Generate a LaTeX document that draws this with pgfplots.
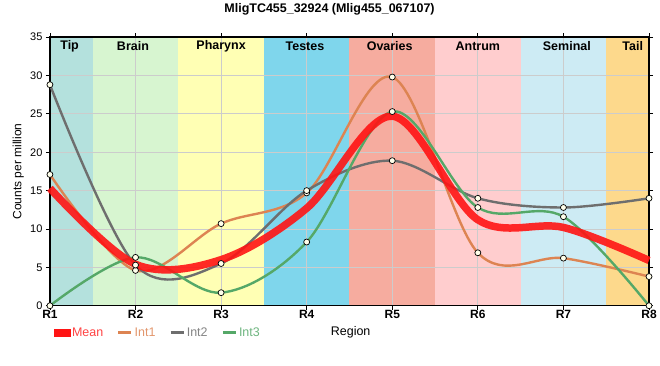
\documentclass[border=0pt]{standalone}
\usepackage{pgfplots}
\usepackage{pgfplotstable}
\pgfplotsset{compat=1.18}
\usepackage{fontspec}
\setmainfont{Liberation Sans}
\definecolor{tipc}{RGB}{180,225,221}
\definecolor{brainc}{RGB}{215,245,208}
\definecolor{pharc}{RGB}{255,255,180}
\definecolor{testc}{RGB}{127,214,236}
\definecolor{ovac}{RGB}{246,172,159}
\definecolor{antc}{RGB}{255,205,206}
\definecolor{semc}{RGB}{205,235,244}
\definecolor{tailc}{RGB}{253,217,140}
\definecolor{colA}{RGB}{221,132,82}
\definecolor{colB}{RGB}{110,110,110}
\definecolor{colC}{RGB}{85,168,104}
\definecolor{colM}{RGB}{255,20,20}
\definecolor{mfill}{RGB}{255,255,235}
\pgfplotstableread{
x int1 int2 int3 mean
1 17.1 28.8 0.0 15.3
2 4.6 5.3 6.3 5.4
3 10.7 5.5 1.7 6.0
4 14.7 15.0 8.3 12.7
5 29.8 18.9 25.3 24.7
6 6.9 14.0 12.8 11.2
7 6.2 12.8 11.6 10.2
8 3.8 14.0 0.0 5.9
}\data
\begin{document}
\begin{tikzpicture}
\begin{axis}[
  at={(0pt,0pt)}, anchor=south west, scale only axis, width=600pt, height=269pt,
  set layers, clip=false,
  xmin=1, xmax=8, ymin=0, ymax=35,
  xtick={1,...,8}, xticklabels={R1,R2,R3,R4,R5,R6,R7,R8},
  ytick={0,5,...,35},
  grid=major, grid style={draw=black!20, line width=0.8pt},
  axis line style={line width=1.5pt},
  tick align=outside, major tick length=4pt, tick style={black, line width=0.8pt},
  /pgf/number format/assume math mode=true,
  xticklabel style={font=\bfseries\fontsize{12}{14}\selectfont, yshift=3pt},
  yticklabel style={font=\fontsize{11}{13}\selectfont},
  title={MligTC455\_32924 (Mlig455\_067107)},
  title style={at={(axis description cs:0.4667,1)}, anchor=center, yshift=22pt, font=\bfseries\fontsize{12.5}{14}\selectfont},
  ylabel={Counts per million},
  ylabel style={at={(axis description cs:-0.053,0.5)}, anchor=center, font=\fontsize{12}{14}\selectfont},
  xlabel={Region},
  xlabel style={at={(axis description cs:0.502,-0.1)}, anchor=center, font=\fontsize{12.5}{14}\selectfont},
  legend columns=-1,
  legend style={at={(axis description cs:0.006,-0.1)}, anchor=west, draw=none, fill=none, inner sep=0pt,
    font=\fontsize{12.5}{14}\selectfont, /tikz/every even column/.append style={column sep=12pt}},
  legend cell align=left,
]
\addplot[fill=tipc, draw=none, on layer=axis background, forget plot] coordinates {(1,35) (1.5,35)} \closedcycle;
\addplot[fill=brainc, draw=none, on layer=axis background, forget plot] coordinates {(1.5,35) (2.5,35)} \closedcycle;
\addplot[fill=pharc, draw=none, on layer=axis background, forget plot] coordinates {(2.5,35) (3.5,35)} \closedcycle;
\addplot[fill=testc, draw=none, on layer=axis background, forget plot] coordinates {(3.5,35) (4.5,35)} \closedcycle;
\addplot[fill=ovac, draw=none, on layer=axis background, forget plot] coordinates {(4.5,35) (5.5,35)} \closedcycle;
\addplot[fill=antc, draw=none, on layer=axis background, forget plot] coordinates {(5.5,35) (6.5,35)} \closedcycle;
\addplot[fill=semc, draw=none, on layer=axis background, forget plot] coordinates {(6.5,35) (7.5,35)} \closedcycle;
\addplot[fill=tailc, draw=none, on layer=axis background, forget plot] coordinates {(7.5,35) (8,35)} \closedcycle;

\addplot[colA, line width=2.4pt, smooth, tension=0.55, forget plot] table[x=x,y=int1]{\data};
\addplot[colB, line width=2.4pt, smooth, tension=0.55, forget plot] table[x=x,y=int2]{\data};
\addplot[colC, line width=2.4pt, smooth, tension=0.55, forget plot] table[x=x,y=int3]{\data};
\addplot[colM, line width=7.5pt, opacity=0.9, smooth, tension=0.55, forget plot] table[x=x,y=mean]{\data};

\addplot[only marks, mark=*, mark size=3pt, mark options={fill=mfill, draw=black, line width=0.7pt}, forget plot] table[x=x,y=int1]{\data};
\addplot[only marks, mark=*, mark size=3pt, mark options={fill=mfill, draw=black, line width=0.7pt}, forget plot] table[x=x,y=int2]{\data};
\addplot[only marks, mark=*, mark size=3pt, mark options={fill=mfill, draw=black, line width=0.7pt}, forget plot] table[x=x,y=int3]{\data};

\addlegendimage{legend image code/.code={\fill[colM] (0pt,-3.5pt) rectangle (16pt,3.5pt);}}
\addlegendentry{\textcolor{colM!80!white}{Mean}}
\addlegendimage{legend image code/.code={\draw[colA, line width=2.4pt] (0pt,0pt) -- (13pt,0pt);}}
\addlegendentry{\textcolor{colA!85!white}{Int1}}
\addlegendimage{legend image code/.code={\draw[colB, line width=2.4pt] (0pt,0pt) -- (13pt,0pt);}}
\addlegendentry{\textcolor{colB!85!white}{Int2}}
\addlegendimage{legend image code/.code={\draw[colC, line width=2.4pt] (0pt,0pt) -- (13pt,0pt);}}
\addlegendentry{\textcolor{colC!85!white}{Int3}}

\tikzset{bandlab/.style={font=\bfseries\fontsize{12.5}{14}\selectfont, yshift=-9pt}}
\node[bandlab] at (axis cs:1.23,35) {Tip};
\node[bandlab] at (axis cs:1.97,35) {Brain};
\node[bandlab] at (axis cs:3,35) {Pharynx};
\node[bandlab] at (axis cs:3.98,35) {Testes};
\node[bandlab] at (axis cs:4.97,35) {Ovaries};
\node[bandlab] at (axis cs:6.0,35) {Antrum};
\node[bandlab] at (axis cs:7.04,35) {Seminal};
\node[bandlab] at (axis cs:7.81,35) {Tail};
\end{axis}
\path (-50pt,-60pt) rectangle (610pt,300pt);
\end{tikzpicture}
\end{document}
